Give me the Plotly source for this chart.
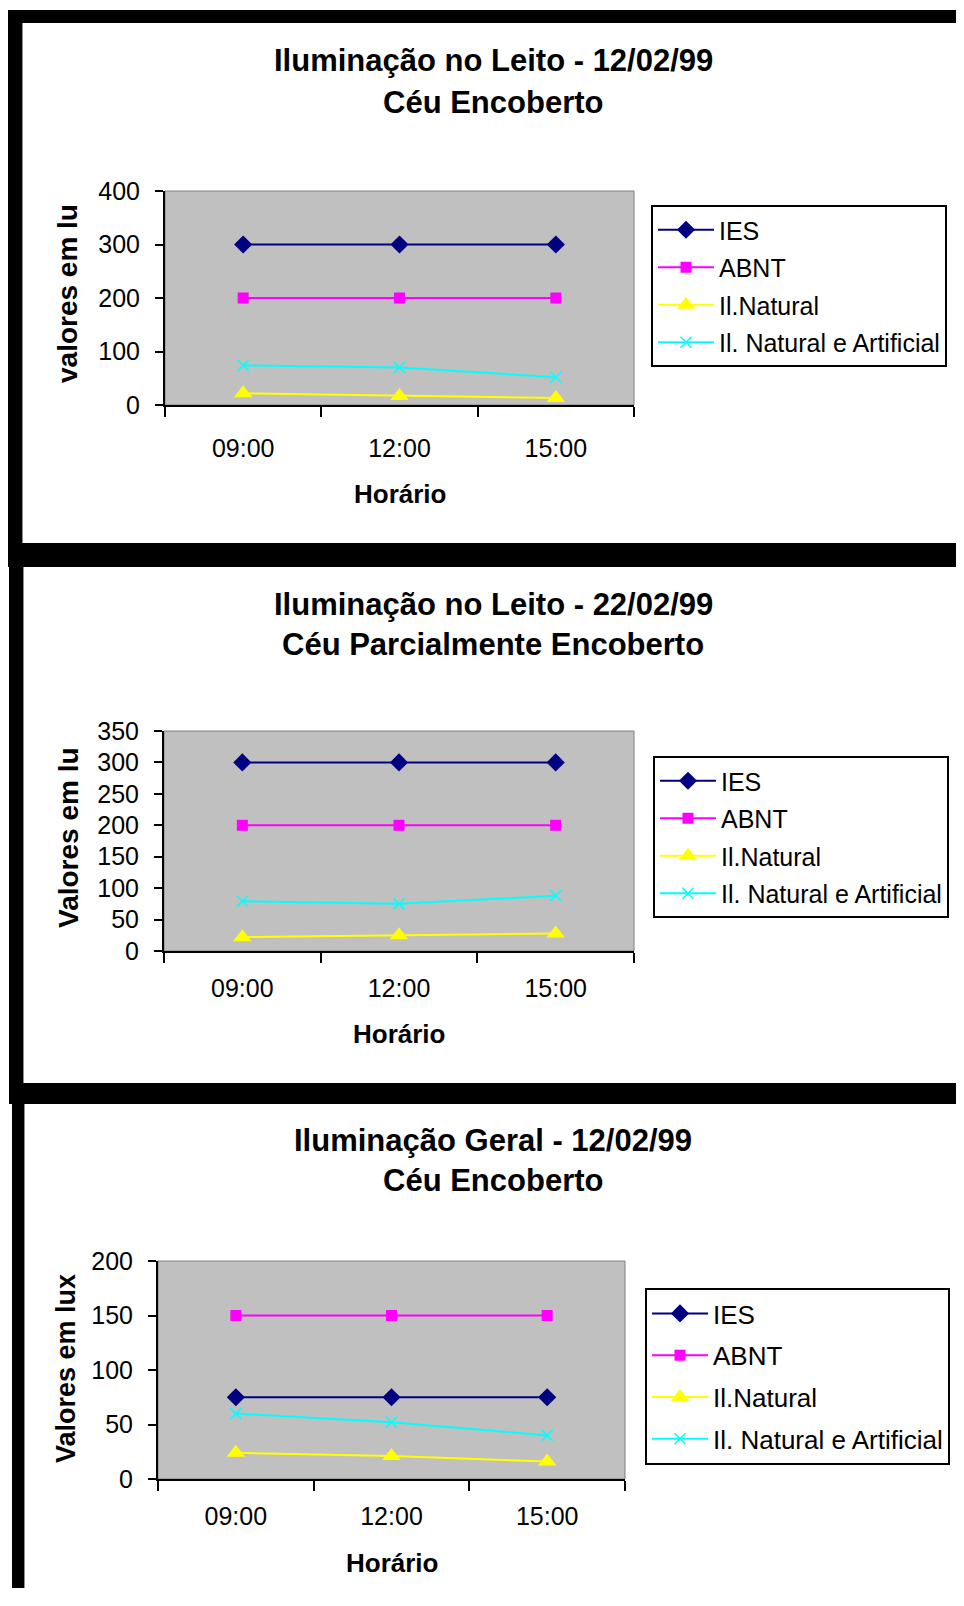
import plotly.graph_objects as go

OFF = 8              # page body margin of the html page
W, H = 956, 1580     # figure size so the page fits the 964x1606 window

horarios = ["09:00", "12:00", "15:00"]
series_names = ["IES", "ABNT", "Il.Natural", "Il. Natural e Artificial"]

p1_ies = [300, 300, 300]
p1_abnt = [200, 200, 200]
p1_nat = [22, 17, 13]
p1_natart = [74, 70, 52]

p2_ies = [300, 300, 300]
p2_abnt = [200, 200, 200]
p2_nat = [22, 25, 28]
p2_natart = [79, 75, 88]

p3_ies = [75, 75, 75]
p3_abnt = [150, 150, 150]
p3_nat = [24, 21, 16]
p3_natart = [60, 52, 40]

titles1 = ["Iluminação no Leito - 12/02/99", "Iluminação no Leito - 22/02/99", "Iluminação Geral - 12/02/99"]
titles2 = ["Céu Encoberto", "Céu Parcialmente Encoberto", "Céu Encoberto"]
ytitles = ["valores em lu", "Valores em lu", "Valores em lux"]
xtitle = "Horário"
yranges = [[0, 400], [0, 350], [0, 200]]
ydticks = [100, 50, 50]

FONT = "Liberation Sans, Arial, sans-serif"
colors = ["#000080", "#FF00FF", "#FFFF00", "#00FFFF"]


def px(x):
    return (x - OFF) / W


def py(y):
    return 1 - (y - OFF) / H


# layout geometry in screen pixels (left, right, top, bottom)
plots = [(165, 634, 191, 405), (164, 634, 731, 951), (158, 625, 1261, 1479)]
legends = [(651, 205, 2, 25), (653, 756, 2, 25), (645, 1288, 5, 26)]
title_y = [(61, 103), (604, 645), (1140, 1180)]
ytitle_pos = [(68, 294, 28), (68, 838, 28), (66, 1369, 27)]
xtitle_y = [494, 1034, 1563]
xlabel_standoff = [20, 14, 14]

data = [
    [p1_ies, p1_abnt, p1_nat, p1_natart],
    [p2_ies, p2_abnt, p2_nat, p2_natart],
    [p3_ies, p3_abnt, p3_nat, p3_natart],
]

fig = go.Figure()
markers = [
    dict(symbol="diamond", size=14),
    dict(symbol="square", size=11),
    dict(symbol="triangle-up", size=16),
    dict(symbol="x-thin", size=11),
]

for i in range(3):
    ax = "" if i == 0 else str(i + 1)
    leg = "legend" if i == 0 else f"legend{i + 1}"
    for j in range(4):
        m = dict(markers[j])
        m["color"] = colors[j]
        m["line"] = dict(color=colors[j], width=1.5 if j == 3 else 0)
        fig.add_trace(go.Scatter(
            x=horarios, y=data[i][j], name=series_names[j],
            mode="lines+markers", line=dict(color=colors[j], width=2),
            marker=m, xaxis="x" + ax, yaxis="y" + ax,
            legend=leg, legendgroup=f"g{i}_{j}", showlegend=True,
        ))

layout = dict(
    width=W, height=H, autosize=False,
    margin=dict(l=0, r=0, t=0, b=0, pad=0, autoexpand=False),
    paper_bgcolor="white",
    font=dict(family=FONT, color="black"),
    shapes=[], annotations=[],
)

for i in range(3):
    l, r, t, b = plots[i]
    ax = "" if i == 0 else str(i + 1)
    layout["xaxis" + ax] = dict(
        domain=[px(l), px(r)], anchor="y" + ax, type="category",
        range=[-0.5, 2.5], tickson="boundaries", ticks="outside", ticklen=10,
        tickwidth=1.5, tickcolor="black", showline=True, linecolor="black",
        linewidth=2, showgrid=False, zeroline=False, fixedrange=True,
        tickfont=dict(size=25, family=FONT, color="black"),
        ticklabelstandoff=xlabel_standoff[i],
    )
    layout["yaxis" + ax] = dict(
        domain=[py(b), py(t)], anchor="x" + ax, range=yranges[i],
        dtick=ydticks[i], ticks="outside", ticklen=8, tickwidth=1.5,
        tickcolor="black", showline=True, linecolor="black", linewidth=2,
        showgrid=False, zeroline=False, fixedrange=True,
        tickfont=dict(size=25, family=FONT, color="black"), ticklabelstandoff=10,
    )
    xr = "x" + ax
    yr = "y" + ax
    layout["shapes"].append(dict(
        type="rect", xref=f"{xr} domain", yref=f"{yr} domain",
        x0=0, x1=1, y0=0, y1=1, line=dict(color="#808080", width=1),
        fillcolor="#C0C0C0", layer="below",
    ))
    lx, ly, gap, lfs = legends[i]
    leg = "legend" if i == 0 else f"legend{i + 1}"
    layout[leg] = dict(
        x=px(lx), y=py(ly), xanchor="left", yanchor="top",
        bgcolor="white", bordercolor="black", borderwidth=2,
        font=dict(size=lfs, family=FONT, color="black"),
        itemwidth=56, tracegroupgap=gap, traceorder="grouped",
    )
    layout["annotations"].append(dict(
        text=f"<b>{titles1[i]}</b>", x=px(493), y=py(title_y[i][0]),
        xref="paper", yref="paper", showarrow=False, xanchor="center", yanchor="middle",
        font=dict(size=31, family=FONT, color="black"),
    ))
    layout["annotations"].append(dict(
        text=f"<b>{titles2[i]}</b>", x=px(493), y=py(title_y[i][1]),
        xref="paper", yref="paper", showarrow=False, xanchor="center", yanchor="middle",
        font=dict(size=31, family=FONT, color="black"),
    ))
    yx, yy, ys = ytitle_pos[i]
    layout["annotations"].append(dict(
        text=f"<b>{ytitles[i]}</b>", x=px(yx), y=py(yy), textangle=-90,
        xref="paper", yref="paper", showarrow=False, xanchor="center", yanchor="middle",
        font=dict(size=ys, family=FONT, color="black"),
    ))
    layout["annotations"].append(dict(
        text=f"<b>{xtitle}</b>", x=0.5, y=py(xtitle_y[i]),
        xref=f"{xr} domain", yref="paper", showarrow=False, xanchor="center", yanchor="middle",
        font=dict(size=26, family=FONT, color="black"),
    ))

# black frame pieces (screen pixel boxes)
frames = [
    (7, 970, 10, 23), (7, 22, 10, 567), (7, 970, 543, 567),
    (9, 23, 543, 1104), (9, 970, 1083, 1104), (12, 24, 1083, 1610),
]
for (x0, x1, y0, y1) in frames:
    layout["shapes"].append(dict(
        type="rect", xref="paper", yref="paper", x0=px(x0), x1=px(x1),
        y0=py(y1), y1=py(y0), line=dict(width=0), fillcolor="black", layer="above",
    ))
for (x0, y0, x1, y1) in [(22.5, 23, 22.5, 543), (23.5, 567, 23.5, 1083), (24.5, 1104, 24.5, 1610)]:
    layout["shapes"].append(dict(
        type="line", xref="paper", yref="paper", x0=px(x0), x1=px(x1),
        y0=py(y0), y1=py(y1), line=dict(color="#909090", width=1), layer="above",
    ))

fig.update_layout(**layout)
fig.write_html("out.html")
